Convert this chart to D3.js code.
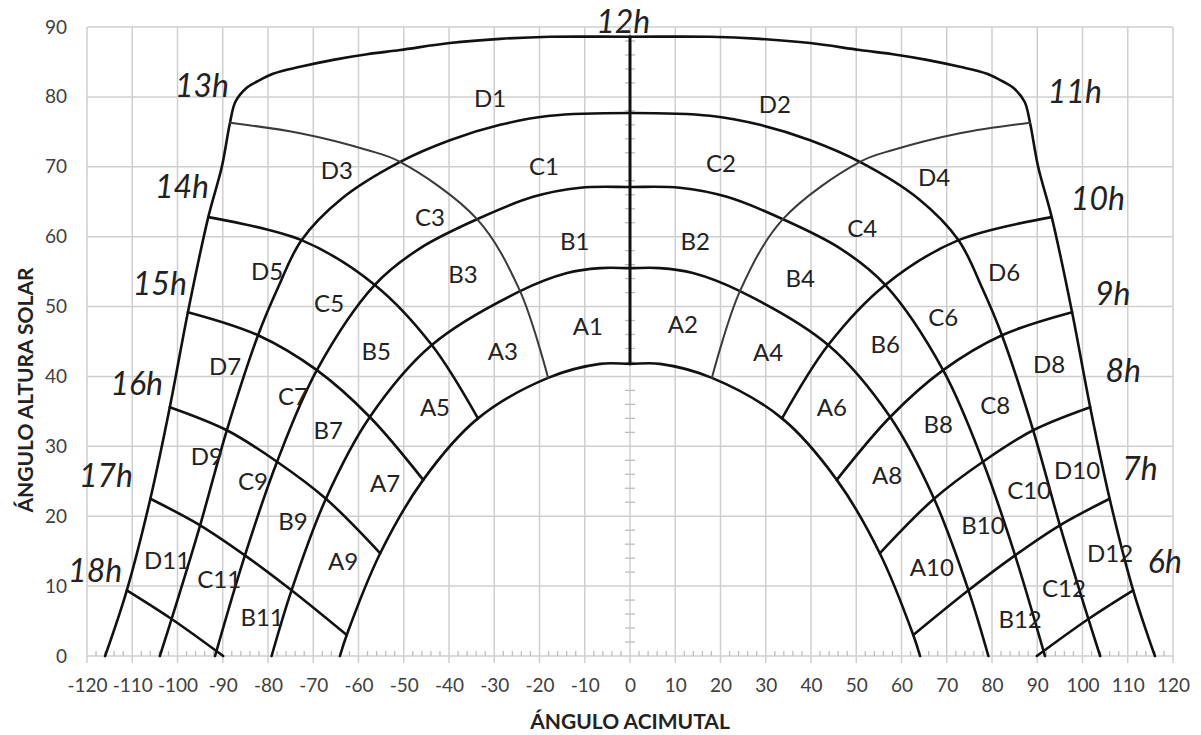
<!DOCTYPE html>
<html>
<head>
<meta charset="utf-8">
<script src="https://cdnjs.cloudflare.com/ajax/libs/d3/7.8.5/d3.min.js"></script>
<style>
  body { margin: 0; background: #ffffff; }
  svg { display: block; }
</style>
</head>
<body>
<svg id="chart" width="1201" height="735"></svg>
<script>
// Axis ticks
const xTicks = [-120, -110, -100, -90, -80, -70, -60, -50, -40, -30, -20, -10, 0, 10, 20, 30, 40, 50, 60, 70, 80, 90, 100, 110, 120];
const yTicks = [0, 10, 20, 30, 40, 50, 60, 70, 80, 90];

// Day paths of the sun: [azimuth, altitude], from west (afternoon) to east (morning)
const pathJune = [[-116, 0], [-111.2, 9.4], [-106, 22.5], [-101.7, 35.6], [-97.7, 49.2], [-93.2, 62.8], [-90.2, 70], [-88.4, 76.3], [-87.2, 79.3], [-84.7, 81.3], [-82.4, 82.2], [-78.9, 83.3], [-72.9, 84.3], [-65.6, 85.3], [-58.1, 86.1], [-50.8, 86.7], [-39.8, 87.7], [-28.7, 88.3], [-17.7, 88.6], [0, 88.6],
  [17.7, 88.6], [28.7, 88.3], [39.8, 87.7], [50.8, 86.7], [58.1, 86.1], [65.6, 85.3], [72.9, 84.3], [78.9, 83.3], [82.4, 82.2], [84.7, 81.3], [87.2, 79.3], [88.4, 76.3], [90.2, 70], [93.2, 62.8], [97.7, 49.2], [101.7, 35.6], [106, 22.5], [111.2, 9.4], [116, 0]];
const pathCD = [[-103.9, 0], [-101.3, 5.3], [-95, 18.7], [-89.1, 32.3], [-82.2, 45.9], [-77.8, 52.7], [-72.6, 59.5], [-63.8, 65.4], [-50.8, 70.7], [-39.8, 73.8], [-28.7, 76], [-17.7, 77.3], [0, 77.7],
  [17.7, 77.3], [28.7, 76], [39.8, 73.8], [50.8, 70.7], [63.8, 65.4], [72.6, 59.5], [77.8, 52.7], [82.2, 45.9], [89.1, 32.3], [95, 18.7], [101.3, 5.3], [103.9, 0]];
const pathBC = [[-91.7, 0], [-85.1, 14.4], [-78, 27.8], [-69.2, 40.9], [-56.4, 53.1], [-46.5, 58.3], [-33.8, 62.5], [-21.4, 65.7], [-11, 67], [0, 67.1],
  [11, 67], [21.4, 65.7], [33.8, 62.5], [46.5, 58.3], [56.4, 53.1], [69.2, 40.9], [78, 27.8], [85.1, 14.4], [91.7, 0]];
const pathAB = [[-79.2, 0], [-74.8, 9.4], [-67.2, 22.5], [-57.5, 34.2], [-43.8, 44.5], [-24.3, 52.2], [-13.9, 54.8], [-6.6, 55.5], [0, 55.5],
  [6.6, 55.5], [13.9, 54.8], [24.3, 52.2], [43.8, 44.5], [57.5, 34.2], [67.2, 22.5], [74.8, 9.4], [79.2, 0]];
const pathDec = [[-64.1, 0], [-62.6, 3], [-55.2, 14.7], [-45.7, 25.2], [-33.6, 34], [-18.1, 39.8], [-6.6, 41.8], [0, 41.8],
  [6.6, 41.8], [18.1, 39.8], [33.6, 34], [45.7, 25.2], [55.2, 14.7], [62.6, 3], [64.1, 0]];

// Hour lines: [azimuth, altitude], from the June path to the December path
const hour12 = [[0, 88.6], [0, 41.8]];
const hourLinesThin = [
  [[-88.4, 76.3], [-72.9, 74.8], [-58.1, 72.4], [-50.8, 70.7], [-33.8, 62.5], [-24.3, 52.2], [-18.1, 39.8]],
  [[88.4, 76.3], [72.9, 74.8], [58.1, 72.4], [50.8, 70.7], [33.8, 62.5], [24.3, 52.2], [18.1, 39.8]]
];
const hourLines = [
  [[-93.2, 62.8], [-72.6, 59.5], [-56.4, 53.1], [-43.8, 44.5], [-33.6, 34]],
  [[-97.7, 49.2], [-82.2, 45.9], [-69.2, 40.9], [-57.5, 34.2], [-45.7, 25.2]],
  [[-101.7, 35.6], [-89.1, 32.3], [-78, 27.8], [-67.2, 22.5], [-55.2, 14.7]],
  [[-106, 22.5], [-95, 18.7], [-85.1, 14.4], [-74.8, 9.4], [-62.6, 3]],
  [[-111.2, 9.4], [-101.3, 5.3], [-89.9, 0]],
  [[93.2, 62.8], [72.6, 59.5], [56.4, 53.1], [43.8, 44.5], [33.6, 34]],
  [[97.7, 49.2], [82.2, 45.9], [69.2, 40.9], [57.5, 34.2], [45.7, 25.2]],
  [[101.7, 35.6], [89.1, 32.3], [78, 27.8], [67.2, 22.5], [55.2, 14.7]],
  [[106, 22.5], [95, 18.7], [85.1, 14.4], [74.8, 9.4], [62.6, 3]],
  [[111.2, 9.4], [101.3, 5.3], [89.9, 0]]
];

// Hour labels: [text, azimuth, altitude of baseline]
const hourLabels = [["12h", -1.5, 89.1], ["13h", -94.6, 80], ["14h", -99, 65.5], ["15h", -103.9, 51.6], ["16h", -109, 37.3], ["17h", -115.8, 24.2], ["18h", -118.2, 10.6],
  ["11h", 98.3, 79.1], ["10h", 103.4, 63.8], ["9h", 106.7, 50.2], ["8h", 109, 39.2], ["7h", 112.7, 25.2], ["6h", 118.2, 11.9]];

// Zone labels: [text, azimuth, altitude of centre]
const zoneLabels = [
  ["D1", -30.9, 79.8], ["D2", 32, 79], ["C1", -19, 70.1], ["C2", 20.1, 70.5], ["B1", -12.2, 59.4], ["B2", 14.4, 59.4],
  ["D3", -64.8, 69.5], ["C3", -44.2, 62.7], ["D4", 67.2, 68.5], ["C4", 51.3, 61.2], ["B3", -36.9, 54.6], ["B4", 37.6, 54.1],
  ["A1", -9.3, 47.2], ["A2", 11.7, 47.5], ["A3", -28.1, 43.6], ["A4", 30.5, 43.5], ["A5", -43.1, 35.6], ["A6", 44.6, 35.6],
  ["D5", -80.2, 55.1], ["C5", -66.5, 50.4], ["B5", -56.1, 43.6], ["D6", 82.7, 54.9], ["C6", 69.2, 48.4], ["B6", 56.4, 44.6],
  ["D7", -89.5, 41.5], ["C7", -74.5, 37.2], ["B7", -66.7, 32.3], ["A7", -54.1, 24.7],
  ["D8", 92.6, 41.8], ["C8", 80.7, 35.9], ["B8", 68.1, 33.2], ["A8", 56.8, 25.8],
  ["D9", -93.5, 28.5], ["C9", -83.3, 25], ["B9", -74.5, 19.3], ["A9", -63.4, 13.6],
  ["D10", 98.8, 26.6], ["C10", 88.2, 23.7], ["B10", 78, 18.7], ["A10", 66.7, 12.7],
  ["D11", -102.3, 13.7], ["C11", -90.8, 10.9], ["B11", -81.3, 5.6],
  ["D12", 106.1, 14.7], ["C12", 95.9, 9.7], ["B12", 86.2, 5.2]
];

const svg = d3.select("#chart");
const x = d3.scaleLinear().domain([-120, 120]).range([87, 1173]);
const y = d3.scaleLinear().domain([0, 90]).range([656, 27]);
const gridColor = "#cfcfcf";
const font = "Lato, 'Open Sans', sans-serif";

// Grid
const grid = svg.append("g");
grid.selectAll("line.v").data(xTicks).join("line")
  .attr("x1", d => x(d)).attr("x2", d => x(d))
  .attr("y1", y(90)).attr("y2", y(0) + 7)
  .attr("stroke", gridColor).attr("stroke-width", 1.5);
grid.selectAll("line.h").data(yTicks).join("line")
  .attr("x1", x(-120)).attr("x2", x(120))
  .attr("y1", d => y(d)).attr("y2", d => y(d))
  .attr("stroke", gridColor).attr("stroke-width", 1.5);

// Minor ticks along the horizontal axis and the vertical axis at azimuth 0
const minorX = d3.range(-120, 120, 2).filter(v => v % 10 !== 0);
grid.selectAll("line.mx").data(minorX).join("line")
  .attr("x1", d => x(d)).attr("x2", d => x(d))
  .attr("y1", y(0) - 5).attr("y2", y(0))
  .attr("stroke", "#bdbdbd").attr("stroke-width", 1.3);
const minorY = d3.range(2, 90, 2).filter(v => v % 10 !== 0);
grid.selectAll("line.my").data(minorY).join("line")
  .attr("x1", x(0) - 5).attr("x2", x(0) + 5)
  .attr("y1", d => y(d)).attr("y2", d => y(d))
  .attr("stroke", "#bdbdbd").attr("stroke-width", 1.3);

// Tick labels
const xAxis = svg.append("g").attr("transform", `translate(0,${y(0)})`)
  .call(d3.axisBottom(x).tickValues(xTicks).tickSize(0).tickPadding(23).tickFormat(d => d));
const yAxis = svg.append("g").attr("transform", `translate(${x(-120)},0)`)
  .call(d3.axisLeft(y).tickValues(yTicks).tickSize(0).tickPadding(20));
[xAxis, yAxis].forEach(g => {
  g.select(".domain").remove();
  g.selectAll("text").attr("fill", "#404040").style("font-family", font).style("font-size", "19px");
});

// Axis titles
svg.append("text")
  .attr("x", 630).attr("y", 729)
  .attr("text-anchor", "middle")
  .style("font-family", font).style("font-size", "21px").style("font-weight", "bold")
  .attr("fill", "#222").text("ÁNGULO ACIMUTAL");
svg.append("text")
  .attr("transform", "translate(33,390) rotate(-90)")
  .attr("text-anchor", "middle")
  .style("font-family", font).style("font-size", "21px").style("font-weight", "bold")
  .attr("fill", "#222").text("ÁNGULO ALTURA SOLAR");

// Curves
const line = d3.line().x(d => x(d[0])).y(d => y(d[1])).curve(d3.curveCatmullRom.alpha(0.5));
const curves = svg.append("g").attr("fill", "none").attr("stroke-linejoin", "round").attr("stroke-linecap", "round");
curves.selectAll("path.day").data([pathJune, pathCD, pathBC, pathAB, pathDec]).join("path")
  .attr("d", line).attr("stroke", "#111").attr("stroke-width", 2.6);
curves.selectAll("path.hour").data(hourLines).join("path")
  .attr("d", line).attr("stroke", "#111").attr("stroke-width", 2.6);
curves.selectAll("path.thin").data(hourLinesThin).join("path")
  .attr("d", line).attr("stroke", "#3a3a3a").attr("stroke-width", 2);
curves.append("path").datum(hour12).attr("d", line).attr("stroke", "#111").attr("stroke-width", 3);

// Hour labels
svg.append("g").selectAll("text").data(hourLabels).join("text")
  .attr("x", d => x(d[1])).attr("y", d => y(d[2]))
  .attr("text-anchor", "middle")
  .style("font-family", font).style("font-size", "32px").style("font-style", "italic")
  .attr("fill", "#222").text(d => d[0]);

// Zone labels
svg.append("g").selectAll("text").data(zoneLabels).join("text")
  .attr("x", d => x(d[1])).attr("y", d => y(d[2])).attr("dy", "0.36em")
  .attr("text-anchor", "middle")
  .style("font-family", font).style("font-size", "24px")
  .attr("fill", "#222").text(d => d[0]);
</script>
</body>
</html>
